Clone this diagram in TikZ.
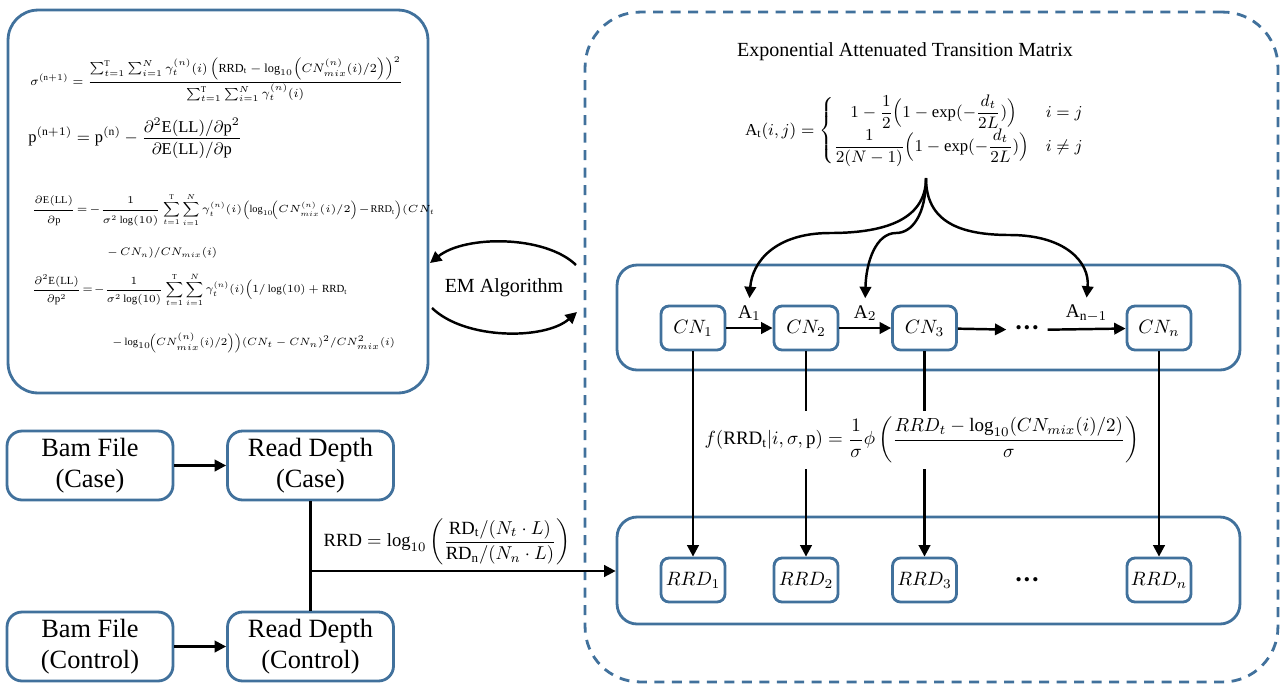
\RequirePackage{fix-cm}
\documentclass[tikz,border=0pt]{standalone}
\usepackage{amsmath}
\usepackage{fontspec}
\setmainfont{Liberation Serif}
\usetikzlibrary{arrows.meta}
\definecolor{boxblue}{RGB}{65,113,156}
\tikzset{
	blk/.style={draw=boxblue, line width=1.6pt, rounded corners=0.3cm, align=center, minimum width=3.32cm, minimum height=1.38cm, font=\fontsize{15}{17.6}\selectfont},
	cnbox/.style={draw=boxblue, line width=1.6pt, rounded corners=0.16cm, minimum width=1.28cm, minimum height=0.88cm, inner sep=0pt, font=\fontsize{11}{13}\selectfont},
	rowbox/.style={draw=boxblue, line width=1.6pt, rounded corners=0.4cm, minimum width=12.46cm},
	arr/.style={-{Triangle[length=6.5pt,width=6.5pt]}, line width=1.4pt},
	lnk/.style={line width=1.4pt},
	fml/.style={anchor=west, inner sep=0pt},
	dotsn/.style={inner sep=5pt, font=\fontsize{10}{12}\selectfont}
}
\newcommand{\threedots}{\textbullet\kern1.3pt\textbullet\kern1.3pt\textbullet}
\begin{document}
\begin{tikzpicture}[x=0.02cm, y=-0.02cm]
	\useasboundingbox (0,0) rectangle (1285,698);
	
	%outer boxes
	\node[draw=boxblue, line width=1.6pt, rounded corners=0.6cm, minimum width=8.4cm, minimum height=7.66cm] (embox) at (218,201.5) {};
	\node[draw=boxblue, line width=1.6pt, dash pattern=on 0.2cm off 0.15cm, rounded corners=1.1cm, minimum width=13.86cm, minimum height=13.4cm] (hmmbox) at (931.5,347) {};
	\node[rowbox, minimum height=2.1cm] (cnrow) at (928.5,317.5) {};
	\node[rowbox, minimum height=2.14cm] (rrdrow) at (928.5,570.5) {};
	
	%EM formulas
	\node[fml, font=\fontsize{7}{9}\selectfont] (sig) at (30,79) {$\sigma^{(\mathrm{n}+1)}=\dfrac{\sum_{t=1}^{\mathrm{T}}\sum_{i=1}^{N}\gamma_t^{(n)}(i)\left(\mathrm{RRD}_\mathrm{t}-\log_{10}\Bigl(CN_{mix}^{(n)}(i)/2\Bigr)\right)^2}{\sum_{t=1}^{\mathrm{T}}\sum_{i=1}^{N}\gamma_t^{(n)}(i)}$};
	\node[fml, font=\fontsize{9.4}{11}\selectfont] (pnew) at (28,138) {$\mathrm{p}^{(\mathrm{n}+1)}=\mathrm{p}^{(\mathrm{n})}-\dfrac{\partial^2\mathrm{E(LL)}/\partial\mathrm{p}^2}{\partial\mathrm{E(LL)}/\partial\mathrm{p}}$};
	\node[fml, font=\fontsize{5.9}{8}\selectfont] (dp1) at (32,210) {$\dfrac{\partial\mathrm{E(LL)}}{\partial\mathrm{p}}\!=\!-\dfrac{1}{\sigma^2\log(10)}\displaystyle\sum_{t=1}^{\mathrm{T}}\sum_{i=1}^{N}\gamma_t^{(n)}(i)\Bigl(\log_{10}\!\Bigl(CN_{mix}^{(n)}(i)/2\Bigr)\!-\!\mathrm{RRD}_\mathrm{t}\Bigr)(CN_t$};
	\node[fml, font=\fontsize{6.2}{8}\selectfont] (dp1b) at (107,253) {$-\,CN_n)/CN_{mix}(i)$};
	\node[fml, font=\fontsize{6.2}{8}\selectfont] (dp2) at (32,290) {$\dfrac{\partial^2\mathrm{E(LL)}}{\partial\mathrm{p}^2}\!=\!-\dfrac{1}{\sigma^2\log(10)}\displaystyle\sum_{t=1}^{\mathrm{T}}\sum_{i=1}^{N}\gamma_t^{(n)}(i)\Bigl(1/\log(10)+\mathrm{RRD}_\mathrm{t}$};
	\node[fml, font=\fontsize{6}{8}\selectfont] (dp2b) at (112,343) {$-\log_{10}\!\Bigl(CN_{mix}^{(n)}(i)/2\Bigr)\Bigr)(CN_t-CN_n)^2/CN_{mix}^2(i)$};
	
	%EM loop
	\node[font=\fontsize{11.4}{13}\selectfont] (em) at (504,288) {EM Algorithm};
	\coordinate (emr1) at (576,265);
	\coordinate (eml1) at (430,263);
	\coordinate (eml2) at (432,308);
	\coordinate (emr2) at (577,312);
	\draw[arr] (emr1) .. controls (545,235) and (465,235) .. (eml1);
	\draw[arr] (eml2) .. controls (465,340) and (545,340) .. (emr2);
	
	%transition matrix
	\node[font=\fontsize{11.4}{13}\selectfont] (title) at (905,52) {Exponential Attenuated Transition Matrix};
	\node[font=\fontsize{9.5}{11.5}\selectfont] (amat) at (915,131) {$\mathrm{A}_\mathrm{t}(i,j)=\begin{cases}\quad 1-\dfrac{1}{2}\Bigl(1-\exp(-\dfrac{d_t}{2L})\Bigr) & i=j\\ \dfrac{1}{2(N-1)}\Bigl(1-\exp(-\dfrac{d_t}{2L})\Bigr) & i\neq j\end{cases}$};
	\coordinate (fork) at (926,178);
	
	%hidden states
	\node[cnbox] (cn1) at (693,328) {$CN_1$};
	\node[cnbox] (cn2) at (806,328) {$CN_2$};
	\node[cnbox] (cn3) at (924.5,328) {$CN_3$};
	\node[dotsn] (dotsa) at (1027,330) {\threedots};
	\node[cnbox] (cnn) at (1159,328) {$CN_n$};
	
	\draw[arr] (cn1) -- node[above, font=\fontsize{11}{13}\selectfont] (a1) {$\mathrm{A}_1$} (cn2);
	\draw[arr] (cn2) -- node[above, font=\fontsize{11}{13}\selectfont] (a2) {$\mathrm{A}_2$} (cn3);
	\draw[arr] (cn3) -- (dotsa);
	\draw[arr] (dotsa) -- node[above, font=\fontsize{11}{13}\selectfont] (an) {$\mathrm{A}_{\mathrm{n}-1}$} (cnn);
	
	\draw[arr] (fork) .. controls (926,222) and (880,233) .. (830,233) .. controls (775,233) and (752,262) .. (a1.north);
	\draw[arr] (fork) .. controls (926,215) and (912,233) .. (896,233) .. controls (876,233) and (866,262) .. (a2.north);
	\draw[arr] (fork) .. controls (926,222) and (960,235) .. (1010,235) .. controls (1065,235) and (1090,262) .. (an.north);
	
	%observations
	\node[cnbox] (rrd1) at (693,580) {$RRD_1$};
	\node[cnbox] (rrd2) at (806,580) {$RRD_2$};
	\node[cnbox] (rrd3) at (924.5,580) {$RRD_3$};
	\node[dotsn] (dotsb) at (1027,582) {\threedots};
	\node[cnbox] (rrdn) at (1159,580) {$RRD_n$};
	
	%emission
	\node[font=\fontsize{10.8}{13}\selectfont] (emis) at (922,440) {$f(\mathrm{RRD}_\mathrm{t}|i,\sigma,\mathrm{p})=\dfrac{1}{\sigma}\phi\left(\dfrac{RRD_t-\log_{10}(CN_{mix}(i)/2)}{\sigma}\right)$};
	\draw[arr] (cn1) -- (rrd1);
	\draw[lnk] (cn2) -- (cn2 |- emis.north);
	\draw[arr] (cn2 |- emis.south) -- (rrd2);
	\draw[lnk] (cn3) -- (cn3 |- emis.north);
	\draw[arr] (cn3 |- emis.south) -- (rrd3);
	\draw[arr] (cnn) -- (rrdn);
	
	%input files
	\node[blk] (bamcase) at (90,465.5) {Bam File\\(Case)};
	\node[blk] (rdcase) at (310.5,465.5) {Read Depth\\(Case)};
	\node[blk] (bamctrl) at (90,646.5) {Bam File\\(Control)};
	\node[blk] (rdctrl) at (310.5,646.5) {Read Depth\\(Control)};
	\draw[arr] (bamcase) -- (rdcase);
	\draw[arr] (bamctrl) -- (rdctrl);
	\draw[lnk] (rdcase) -- (rdctrl);
	\coordinate (jn) at (310.5,571);
	\draw[arr] (jn) -- (jn -| rrdrow.west);
	\node[font=\fontsize{10.6}{13}\selectfont] (rrdf) at (447,542) {$\mathrm{RRD}=\log_{10}\left(\dfrac{\mathrm{RD_t}/(N_t\cdot L)}{\mathrm{RD_n}/(N_n\cdot L)}\right)$};
	
\end{tikzpicture}
\end{document}
